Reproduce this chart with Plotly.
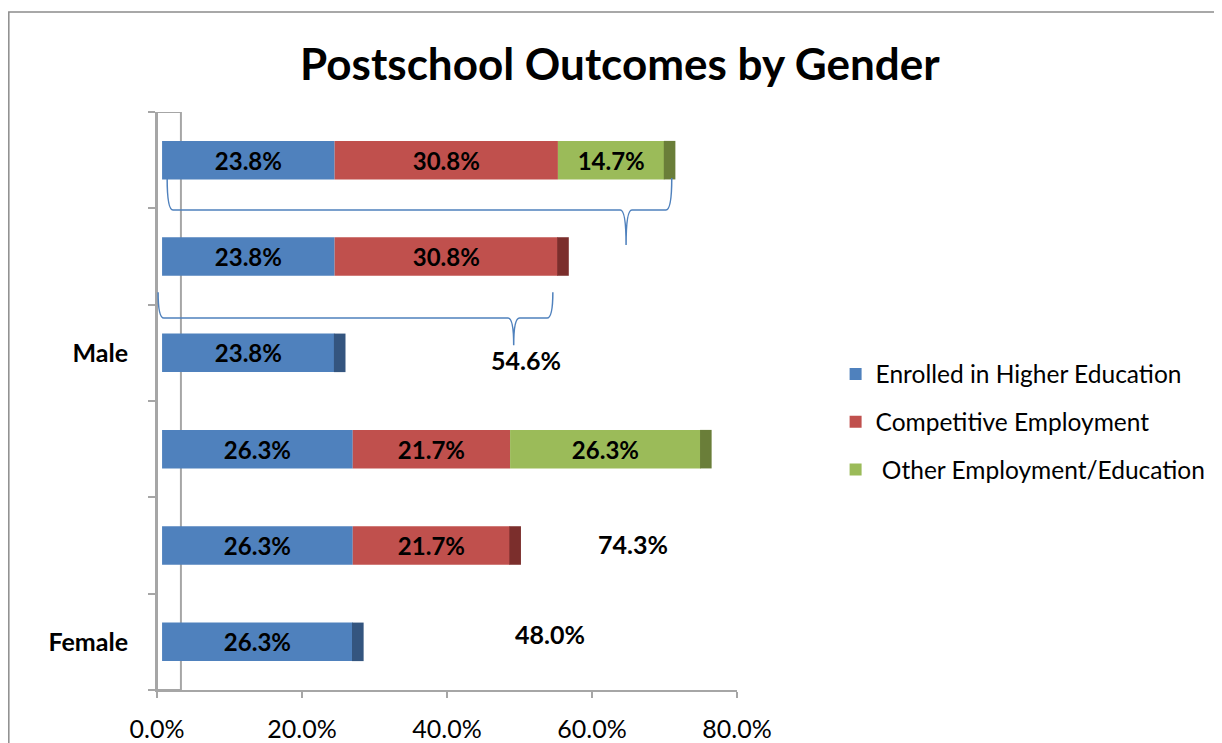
import plotly.graph_objects as go

# ---- data ----
genders = ["Female", "Male"]
series_names = ["Enrolled in Higher Education", "Competitive Employment", " Other Employment/Education"]
enrolled = [26.3, 23.8]
competitive = [21.7, 30.8]
other = [26.3, 14.7]
x_ticks = [0, 20, 40, 60, 80]

# ---- style ----
colors = ["#4F81BD", "#C0504D", "#9BBB59"]
cap_colors = ["#34557F", "#7B2E2C", "#6A7E39"]
FONT = "Lato"
depth = 0.7      # 3-D front-face shift (in axis units)
cap_w = 1.6      # width of the dark side face
bar_w = 0.4

values = [enrolled, competitive, other]

# rows: for each gender, cumulative builds with 1, 2, 3 series
rows = []  # (y, gender index, n series)
y = 0
for gi in range(len(genders)):
    for n in range(1, 4):
        rows.append((y, gi, n))
        y += 1

fig = go.Figure()

for si, name in enumerate(series_names):
    ys, xs, bases, texts = [], [], [], []
    for (yy, gi, n) in rows:
        if si < n:
            ys.append(yy)
            xs.append(values[si][gi])
            bases.append(depth + sum(values[k][gi] for k in range(si)))
            texts.append(f"{values[si][gi]:.1f}%")
    fig.add_trace(go.Bar(
        orientation="h", y=ys, x=xs, base=bases, width=bar_w,
        name=name, marker=dict(color=colors[si], line=dict(width=0)),
        text=texts, textposition="inside", insidetextanchor="middle",
        textangle=0, constraintext="none",
        textfont=dict(family=FONT, size=24, color="black", weight="bold"),
        legendgroup=f"g{si}", hoverinfo="skip",
    ))

# dark side faces (3-D caps)
for (yy, gi, n) in rows:
    total = sum(values[k][gi] for k in range(n))
    fig.add_trace(go.Bar(
        orientation="h", y=[yy], x=[cap_w], base=[depth + total - 0.1], width=bar_w,
        marker=dict(color=cap_colors[n - 1], line=dict(width=0)),
        showlegend=False, hoverinfo="skip",
    ))

# 3-D back wall outline
fig.add_shape(type="rect", xref="x", yref="y", x0=0, x1=3.3, y0=-0.5, y1=5.5,
              line=dict(color="#A6A6A6", width=2), fillcolor="rgba(0,0,0,0)", layer="below")

# outer chart border
fig.add_shape(type="rect", xref="paper", yref="paper", x0=-0.2555, x1=2.2, y0=-0.3, y1=1.173,
              line=dict(color="#8C8C8C", width=1.5), fillcolor="rgba(0,0,0,0)", layer="below")


def brace(x0, x1, xtip, ytop, yh, ytip, c=0.8):
    return (f"M {x0},{ytop} Q {x0},{yh} {x0 + c},{yh} "
            f"L {xtip - c},{yh} Q {xtip},{yh} {xtip},{ytip} "
            f"Q {xtip},{yh} {xtip + c},{yh} "
            f"L {x1 - c},{yh} Q {x1},{yh} {x1},{ytop}")


male = genders.index("Male")
female = genders.index("Female")
male3 = enrolled[male] + competitive[male] + other[male]
male2 = enrolled[male] + competitive[male]
fem2 = enrolled[female] + competitive[female]
fem3 = enrolled[female] + competitive[female] + other[female]

fig.add_shape(type="path", xref="x", yref="y",
              path=brace(1.4, male3 + 1.7, male3 - 4.6, 4.815, 4.483, 4.12),
              line=dict(color="#4F81BD", width=1.5))
fig.add_shape(type="path", xref="x", yref="y",
              path=brace(0.15, male2, male2 - 5.4, 3.63, 3.362, 3.08),
              line=dict(color="#4F81BD", width=1.5))

ann_font = dict(family=FONT, size=25, color="black", weight="bold")
fig.add_annotation(x=50.9, y=2.93, xref="x", yref="y", text=f"{male2:.1f}%",
                   showarrow=False, font=ann_font)
fig.add_annotation(x=65.7, y=1.015, xref="x", yref="y", text=f"{fem3:.1f}%",
                   showarrow=False, font=ann_font)
fig.add_annotation(x=54.2, y=0.08, xref="x", yref="y", text=f"{fem2:.1f}%",
                   showarrow=False, font=ann_font)

fig.update_layout(
    width=1214, height=735,
    margin=dict(l=149, r=485, t=104, b=53, autoexpand=False),
    paper_bgcolor="white", plot_bgcolor="white",
    barmode="overlay",
    title=dict(text="<b>Postschool Outcomes by Gender</b>", x=0.504, xref="container",
               xanchor="center", y=0.9224, yref="container", yanchor="middle",
               font=dict(family=FONT, size=44, color="black")),
    xaxis=dict(range=[0, 80], tickvals=x_ticks, ticktext=[f"{v:.1f}%" for v in x_ticks],
               showgrid=False, zeroline=False, showline=True, linecolor="#A6A6A6", linewidth=2,
               ticks="outside", tickcolor="#A6A6A6", ticklen=6, tickwidth=1.5,
               ticklabelstandoff=10, automargin=False,
               tickfont=dict(family=FONT, size=25, color="black")),
    yaxis=dict(range=[-0.5, 5.5], tickvals=[0, 3], ticktext=genders,
               showgrid=False, zeroline=False, showline=True, linecolor="#A6A6A6", linewidth=2,
               ticks="", ticklabelstandoff=22, automargin=False,
               minor=dict(tickvals=[-0.5, 0.5, 1.5, 2.5, 3.5, 4.5, 5.5], ticks="outside",
                          ticklen=7, tickcolor="#A6A6A6", tickwidth=1.5),
               tickfont=dict(family=FONT, size=25, color="black", weight="bold")),
    legend=dict(x=1.170, y=0.4637, xanchor="left", yanchor="middle",
                traceorder="grouped", tracegroupgap=13,
                font=dict(family=FONT, size=24.5, color="black"),
                bgcolor="rgba(0,0,0,0)"),
    showlegend=True,
)

fig.write_html("out.html")
